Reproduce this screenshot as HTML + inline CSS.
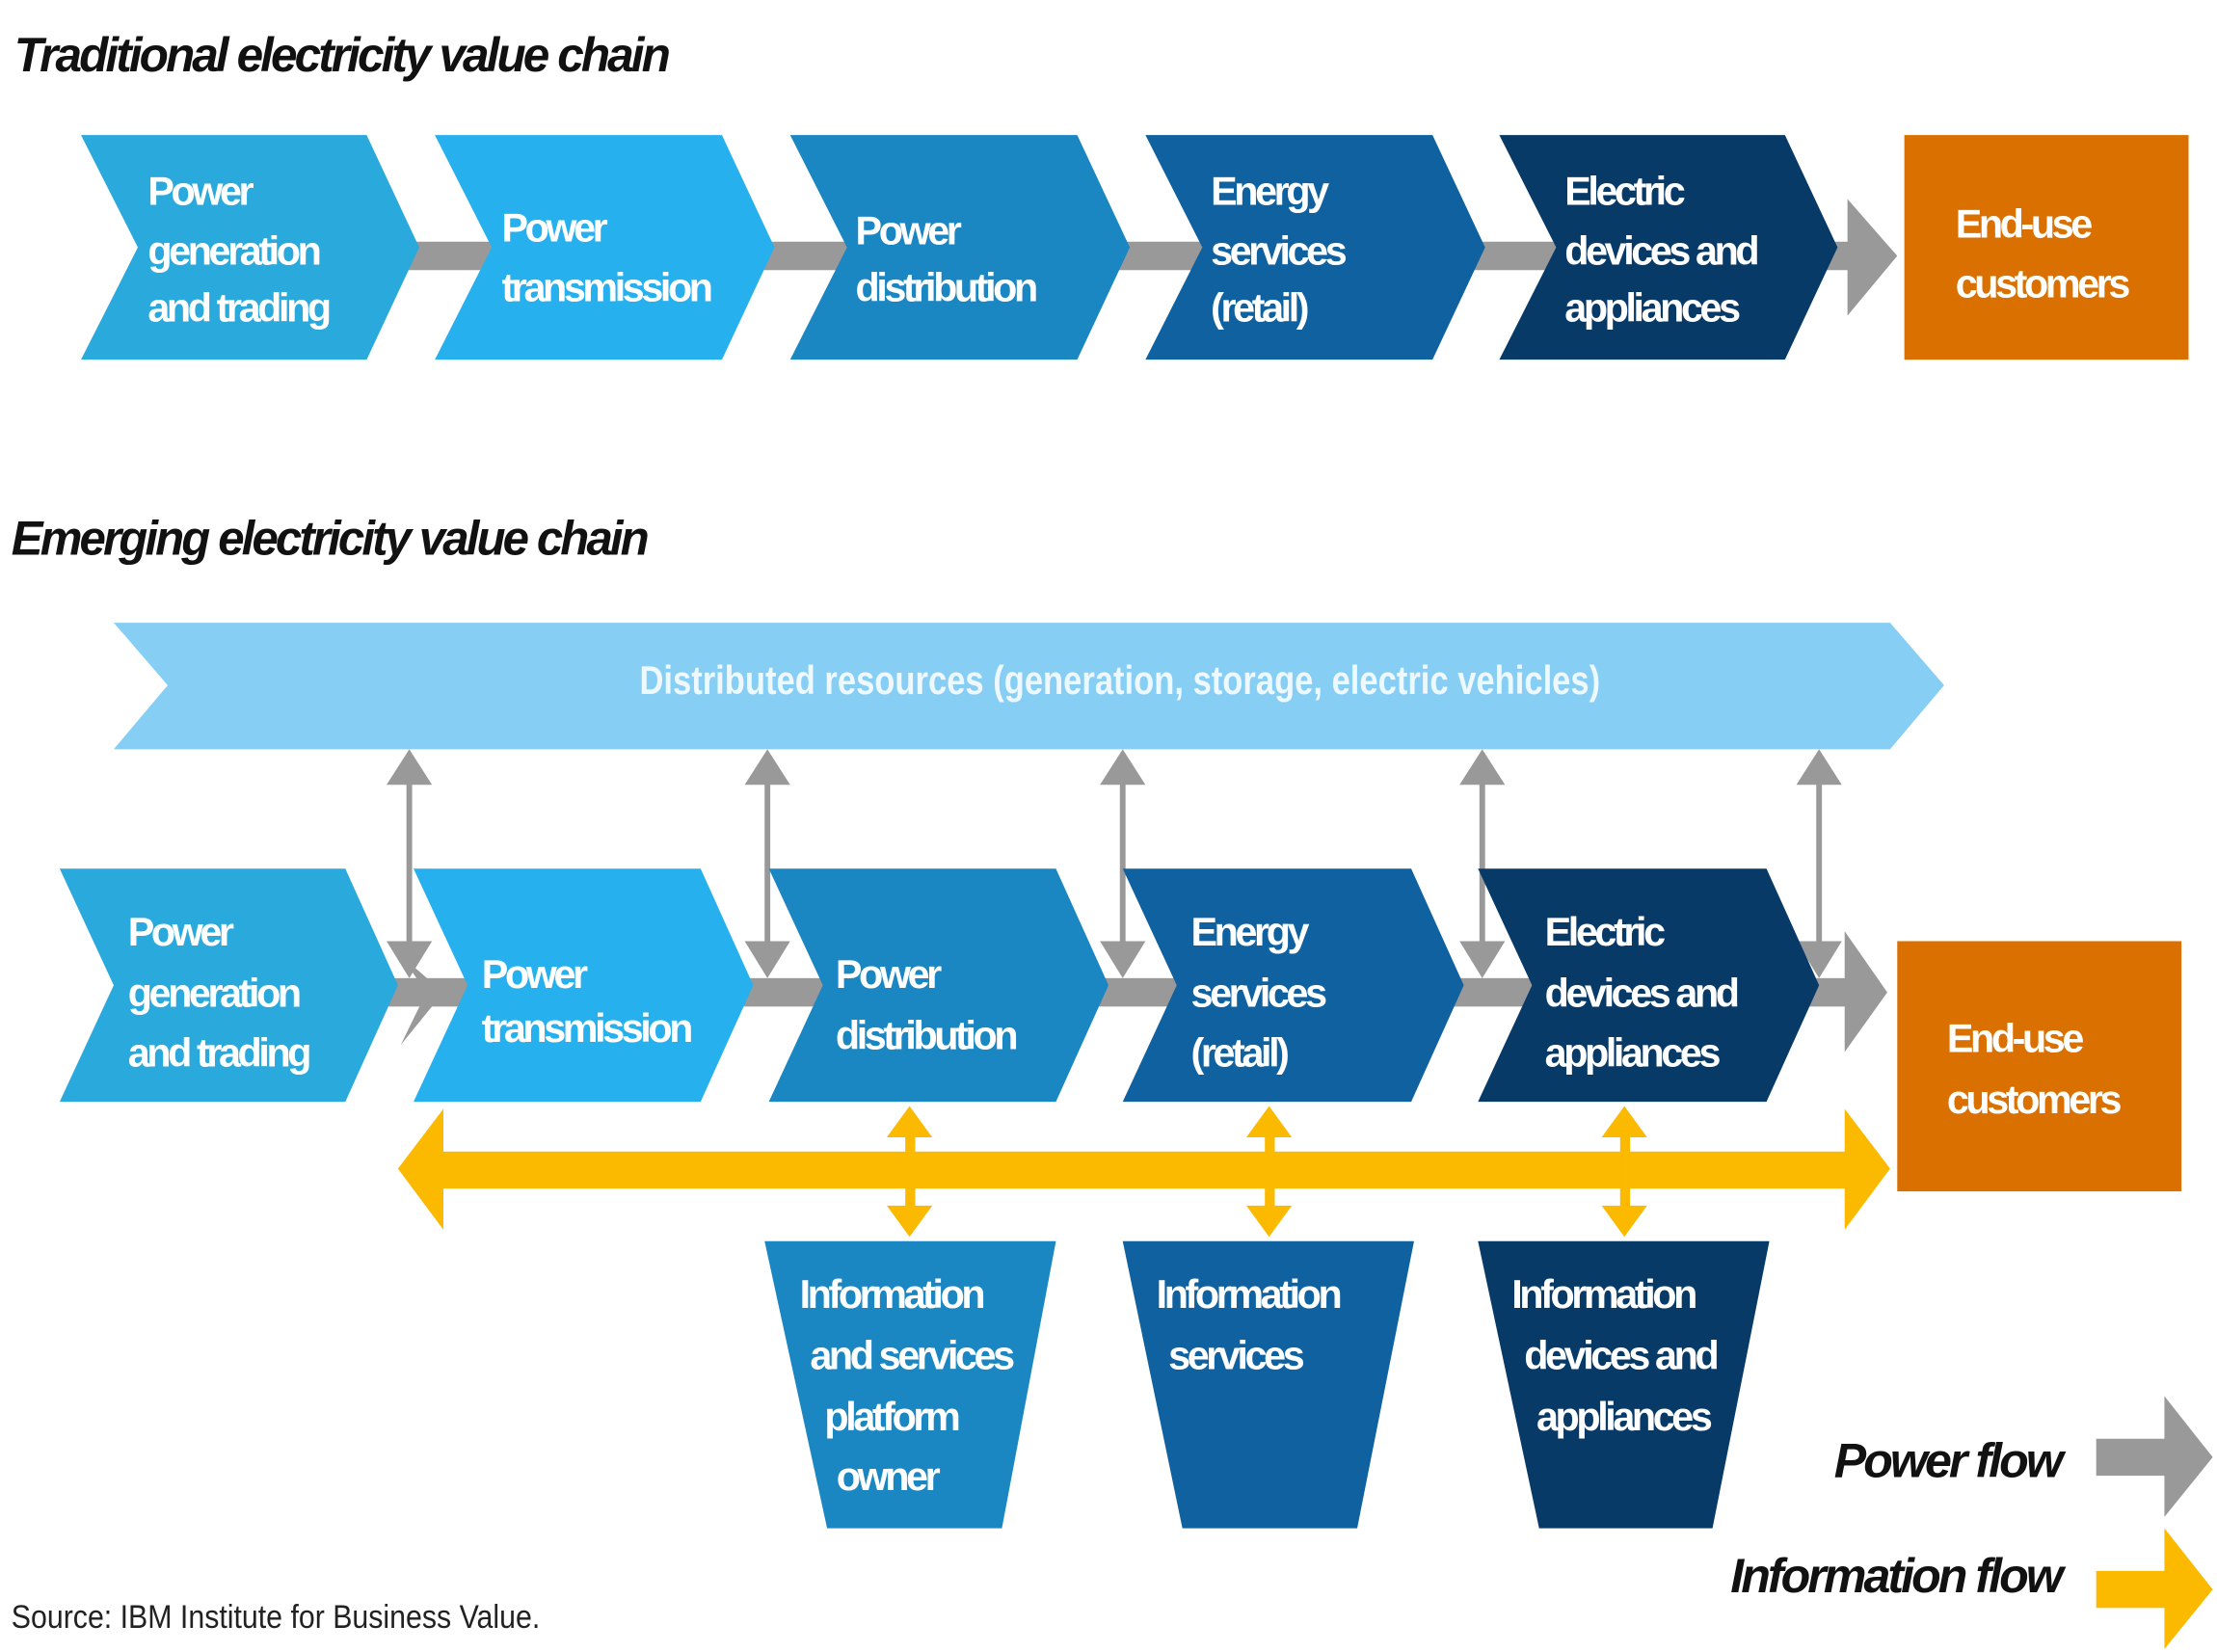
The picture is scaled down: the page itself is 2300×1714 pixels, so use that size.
<!DOCTYPE html>
<html><head><meta charset="utf-8"><style>html,body{margin:0;padding:0;background:#fff}svg{display:block}</style></head>
<body>
<svg width="2300" height="1714" viewBox="0 0 1560 1162" preserveAspectRatio="none" xmlns="http://www.w3.org/2000/svg" font-family="Liberation Sans, sans-serif">
<defs>
<style>
.t{fill:#fff;font-weight:bold;font-size:28px;letter-spacing:-2.3px}
.h{fill:#111;font-weight:bold;font-style:italic;font-size:34px;letter-spacing:-2px}
</style>
</defs>
<text class="h" x="10" y="50" textLength="460" lengthAdjust="spacingAndGlyphs">Traditional electricity value chain</text>
<rect x="280" y="170" width="1030" height="20" fill="#999"/>
<polygon points="1300,140 1335,180 1300,222" fill="#999"/>
<polygon points="57,95 258,95 295,174 258,253 57,253 97,174" fill="#29a9dc"/>
<polygon points="306,95 508,95 545,174 508,253 306,253 346,174" fill="#27b0ee"/>
<polygon points="556,95 758,95 795,174 758,253 556,253 596,174" fill="#1a86c2"/>
<polygon points="806,95 1008,95 1045,174 1008,253 806,253 846,174" fill="#0f61a0"/>
<polygon points="1055,95 1256,95 1293,174 1256,253 1055,253 1095,174" fill="#083a68"/>
<rect x="1340" y="95" width="200" height="158" fill="#d97000"/>
<g class="t">
<text x="104" y="144">Power</text><text x="104" y="186">generation</text><text x="104" y="226">and trading</text>
<text x="353" y="170">Power</text><text x="353" y="212">transmission</text>
<text x="602" y="172">Power</text><text x="602" y="212">distribution</text>
<text x="852" y="144">Energy</text><text x="852" y="186">services</text><text x="852" y="226">(retail)</text>
<text x="1101" y="144">Electric</text><text x="1101" y="186">devices and</text><text x="1101" y="226">appliances</text>
<text x="1376" y="167">End-use</text><text x="1376" y="209">customers</text>
</g>

<text class="h" x="8" y="390" textLength="447" lengthAdjust="spacingAndGlyphs">Emerging electricity value chain</text>
<polygon points="80,438 1330,438 1368,482 1330,527 80,527 118,482" fill="#87cef5"/>
<text x="788" y="488" text-anchor="middle" fill="#eef8ff" font-weight="bold" font-size="28" textLength="676" lengthAdjust="spacingAndGlyphs">Distributed resources (generation, storage, electric vehicles)</text>

<rect x="270" y="688" width="1040" height="20" fill="#999"/>
<polygon points="1298,655 1328,698 1298,740" fill="#999"/>
<polygon points="282,672 300,698 282,735 312,698" fill="#999"/>
<g fill="#999" stroke="#999">
<g id="va">
<line x1="288" y1="545" x2="288" y2="670" stroke-width="4"/>
<polygon points="272,552 288,527 304,552" stroke="none"/>
<polygon points="272,662 288,688 304,662" stroke="none"/>
</g>
<use href="#va" x="252"/><use href="#va" x="502"/><use href="#va" x="755"/><use href="#va" x="992"/>
</g>
<polygon points="42,611 243,611 280,693 243,775 42,775 80,693" fill="#29a9dc"/>
<polygon points="291,611 493,611 530,693 493,775 291,775 329,693" fill="#27b0ee"/>
<polygon points="541,611 743,611 780,693 743,775 541,775 579,693" fill="#1a86c2"/>
<polygon points="790,611 993,611 1030,693 993,775 790,775 828,693" fill="#0f61a0"/>
<polygon points="1040,611 1243,611 1280,693 1243,775 1040,775 1078,693" fill="#083a68"/>
<rect x="1335" y="662" width="200" height="176" fill="#d97000"/>
<g class="t">
<text x="90" y="665">Power</text><text x="90" y="708">generation</text><text x="90" y="750">and trading</text>
<text x="339" y="695">Power</text><text x="339" y="733">transmission</text>
<text x="588" y="695">Power</text><text x="588" y="738">distribution</text>
<text x="838" y="665">Energy</text><text x="838" y="708">services</text><text x="838" y="750">(retail)</text>
<text x="1087" y="665">Electric</text><text x="1087" y="708">devices and</text><text x="1087" y="750">appliances</text>
<text x="1370" y="740">End-use</text><text x="1370" y="783">customers</text>
</g>

<g fill="#fbb900">
<rect x="305" y="810" width="1000" height="26"/>
<polygon points="280,822 312,780 312,865"/>
<polygon points="1330,822 1298,780 1298,865"/>
<g id="ya">
<rect x="637" y="795" width="7" height="60"/>
<polygon points="624,800 640,778 656,800"/>
<polygon points="624,848 640,870 656,848"/>
</g>
<use href="#ya" x="253"/><use href="#ya" x="503"/>
</g>

<polygon points="538,873 743,873 705,1075 582,1075" fill="#1a86c2"/>
<polygon points="790,873 995,873 955,1075 832,1075" fill="#0f61a0"/>
<polygon points="1040,873 1245,873 1205,1075 1083,1075" fill="#083a68"/>
<g class="t" text-anchor="middle">
<text x="627" y="920">Information</text><text x="641" y="963">and services</text><text x="627" y="1006">platform</text><text x="624" y="1048">owner</text>
<text x="878" y="920">Information</text><text x="869" y="963">services</text>
<text x="1128" y="920">Information</text><text x="1140" y="963">devices and</text><text x="1142" y="1006">appliances</text>
</g>

<text class="h" x="1450" y="1039" text-anchor="end" font-size="31">Power flow</text>
<rect x="1475" y="1012" width="50" height="26" fill="#999"/>
<polygon points="1523,982 1557,1025 1523,1067" fill="#999"/>
<text class="h" x="1450" y="1120" text-anchor="end" font-size="31">Information flow</text>
<rect x="1475" y="1105" width="50" height="26" fill="#fbb900"/>
<polygon points="1523,1075 1557,1118 1523,1160" fill="#fbb900"/>

<text x="8" y="1145" font-size="23" fill="#222" textLength="372" lengthAdjust="spacingAndGlyphs">Source: IBM Institute for Business Value.</text>
</svg>
</body></html>
